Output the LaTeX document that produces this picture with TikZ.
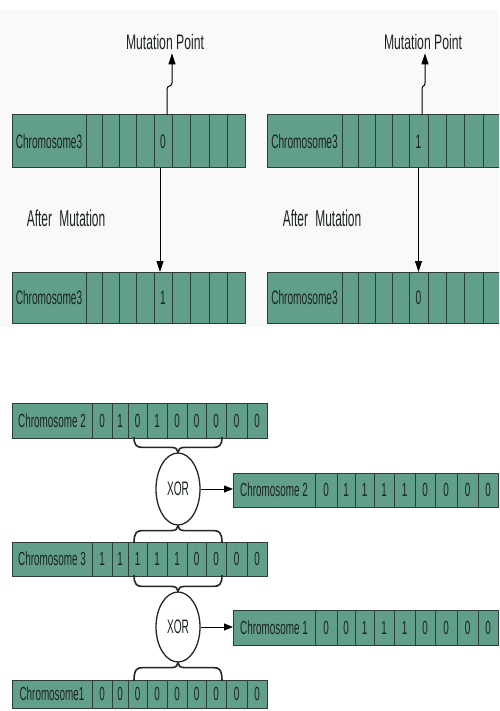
\documentclass[tikz,border=0pt]{standalone}
\usepackage{fontspec}
\setmainfont{Liberation Sans}
\newfontfamily\nf[FakeStretch=0.52]{Liberation Sans}
\newfontfamily\nfw[FakeStretch=0.58]{Liberation Sans}
\usetikzlibrary{shapes.geometric,arrows.meta,calc}
\definecolor{chromfill}{RGB}{98,158,140}
\definecolor{chromline}{RGB}{45,62,56}
\definecolor{inkc}{RGB}{28,36,33}
\tikzset{
  cell/.style={draw=chromline, fill=chromfill, line width=1pt, inner sep=0pt, outer sep=0pt,
    text=inkc, font=\nf\fontsize{19.5}{19.5}\selectfont},
  bcell/.style={cell, font=\nf\fontsize{19}{19}\selectfont},
  arr/.style={draw=black, line width=1pt, -{Triangle[length=11pt,width=7pt]}},
  sarr/.style={draw=black, line width=1pt, -{Triangle[length=9pt,width=7pt]}},
  brace/.style={draw=black!85, line width=1.6pt, line cap=round, line join=round},
  xorell/.style={ellipse, draw=black!85, line width=1.3pt, fill=white, inner sep=0pt,
    minimum width=44pt, minimum height=72pt, text=inkc, font=\nf\fontsize{19.5}{19.5}\selectfont},
  mptext/.style={inner sep=3pt, text=inkc, font=\nfw\fontsize{21}{21}\selectfont},
  amtext/.style={inner sep=0pt, text=inkc, font=\nf\fontsize{23}{23}\selectfont}
}
\newcommand\rowcells[5]{%
  \foreach \xa/\xb/\val [count=\i from 0] in {#5}{
    \node[#4, minimum width={(\xb-\xa)*1pt}, minimum height={(#3-#2)*1pt}]
      (#1\i) at ({(\xa+\xb)/2},{(#2+#3)/2}) {\val};
  }}
\newcommand\xbrace[3]{%
  \path (#1) coordinate (bT)
    +(-44,{(#2)*(#3)}) coordinate (bL0) +(-36,{(#2)*5}) coordinate (bL1) +(-7,{(#2)*5}) coordinate (bL2)
    +(7,{(#2)*5}) coordinate (bR2) +(36,{(#2)*5}) coordinate (bR1) +(44,{(#2)*(#3)}) coordinate (bR0);
  \draw[brace] (bL0) .. controls ($(bL0)+(0,{-(#2)*((#3)-7)})$) and ($(bL1)+(-5,0)$) .. (bL1)
    -- (bL2) .. controls ($(bL2)+(5,0)$) and ($(bT)+(0,{(#2)*3})$) .. (bT)
    .. controls ($(bT)+(0,{(#2)*3})$) and ($(bR2)+(-5,0)$) .. (bR2)
    -- (bR1) .. controls ($(bR1)+(5,0)$) and ($(bR0)+(0,{-(#2)*((#3)-7)})$) .. (bR0);
}
\begin{document}
\begin{tikzpicture}[x=1pt,y=-1pt]
\useasboundingbox (0,0) rectangle (499,711);
\clip (0,0) rectangle (499,711);
\fill[white] (0,0) rectangle (499,711);
\fill[gray!5] (0,10) rectangle (499,327);

% ---- mutation, left ----
\rowcells{tl}{115}{168}{cell}{12/86/Chromosome3,86/102/{},102/119/{},119/136/{},136/154/{},154/172/0,172/190/{},190/209/{},209/227/{},227/245/{}}
\rowcells{bl}{272}{323}{cell}{12/86/Chromosome3,86/102/{},102/119/{},119/136/{},136/154/{},154/172/1,172/190/{},190/209/{},209/227/{},227/245/{}}
% ---- mutation, right ----
\rowcells{tr}{115}{168}{cell}{267/342/Chromosome3,342/358/{},358/375/{},375/392/{},392/409/{},409/428/1,428/446/{},446/464/{},464/483/{},483/501/{}}
\rowcells{br}{272}{323}{cell}{267/342/Chromosome3,342/358/{},358/375/{},375/392/{},392/409/{},409/428/0,428/446/{},446/464/{},464/483/{},483/501/{}}

\node[mptext, anchor=base] (mp1) at (165,50) {Mutation Point};
\node[mptext, anchor=base] (mp2) at (423,50) {Mutation Point};
\node[amtext] (am1) at (66,218) {After\hspace{4pt} Mutation};
\node[amtext] (am2) at (322,218) {After\hspace{4pt} Mutation};

\path ([xshift=4pt]tl5.north) coordinate (u1a) ++(0,-26) coordinate (u1b) ++(5,-6) coordinate (u1c);
\draw[arr] (u1a) -- (u1b) .. controls +(0,-4) and +(0,4) .. (u1c) -- (u1c |- mp1.south);
\path ([xshift=3.5pt]tr5.north) coordinate (u2a) ++(0,-26) coordinate (u2b) ++(3,-6) coordinate (u2c);
\draw[arr] (u2a) -- (u2b) .. controls +(0,-4) and +(0,4) .. (u2c) -- (u2c |- mp2.south);

\draw[arr] ([xshift=-3pt]tl5.south) -- ([xshift=-3pt]bl5.north);
\draw[arr] (tr5.south) -- (br5.north);

% ---- XOR part ----
\rowcells{ca}{403}{438}{bcell}{12/92/{Chromosome 2},92/112/0,112/128/1,128/147/0,147/167/1,167/187/0,187/206/0,206/226/0,226/247/0,247/267/0}
\rowcells{cb}{542}{576}{bcell}{12/92/{Chromosome 3},92/112/1,112/128/1,128/147/1,147/167/1,167/187/1,187/206/0,206/226/0,226/247/0,247/267/0}
\rowcells{cc}{680}{708}{bcell}{12/92/{Chromosome1},92/112/0,112/128/0,128/147/0,147/167/0,167/187/0,187/206/0,206/226/0,226/247/0,247/267/0}
\rowcells{ra}{473}{507}{bcell}{233/315/{Chromosome 2},315/337/0,337/355/1,355/374/1,374/394/1,394/415/1,415/435/0,435/457/0,457/478/0,478/498/0}
\rowcells{rb}{610}{645}{bcell}{233/315/{Chromosome 1},315/337/0,337/355/0,355/374/1,374/394/1,394/415/1,415/435/0,435/457/0,457/478/0,478/498/0}

\node[xorell] (x1) at (178,489) {XOR};
\node[xorell, minimum height=70pt] (x2) at (178,627) {XOR};

\xbrace{x1.north}{-1}{15}
\xbrace{x1.south}{1}{17}
\xbrace{x2.north}{-1}{16}
\xbrace{x2.south}{1}{18}

\draw[sarr] (x1.east) -- (ra0.west |- x1.east);
\draw[sarr] (x2.east) -- (rb0.west |- x2.east);
\end{tikzpicture}
\end{document}
